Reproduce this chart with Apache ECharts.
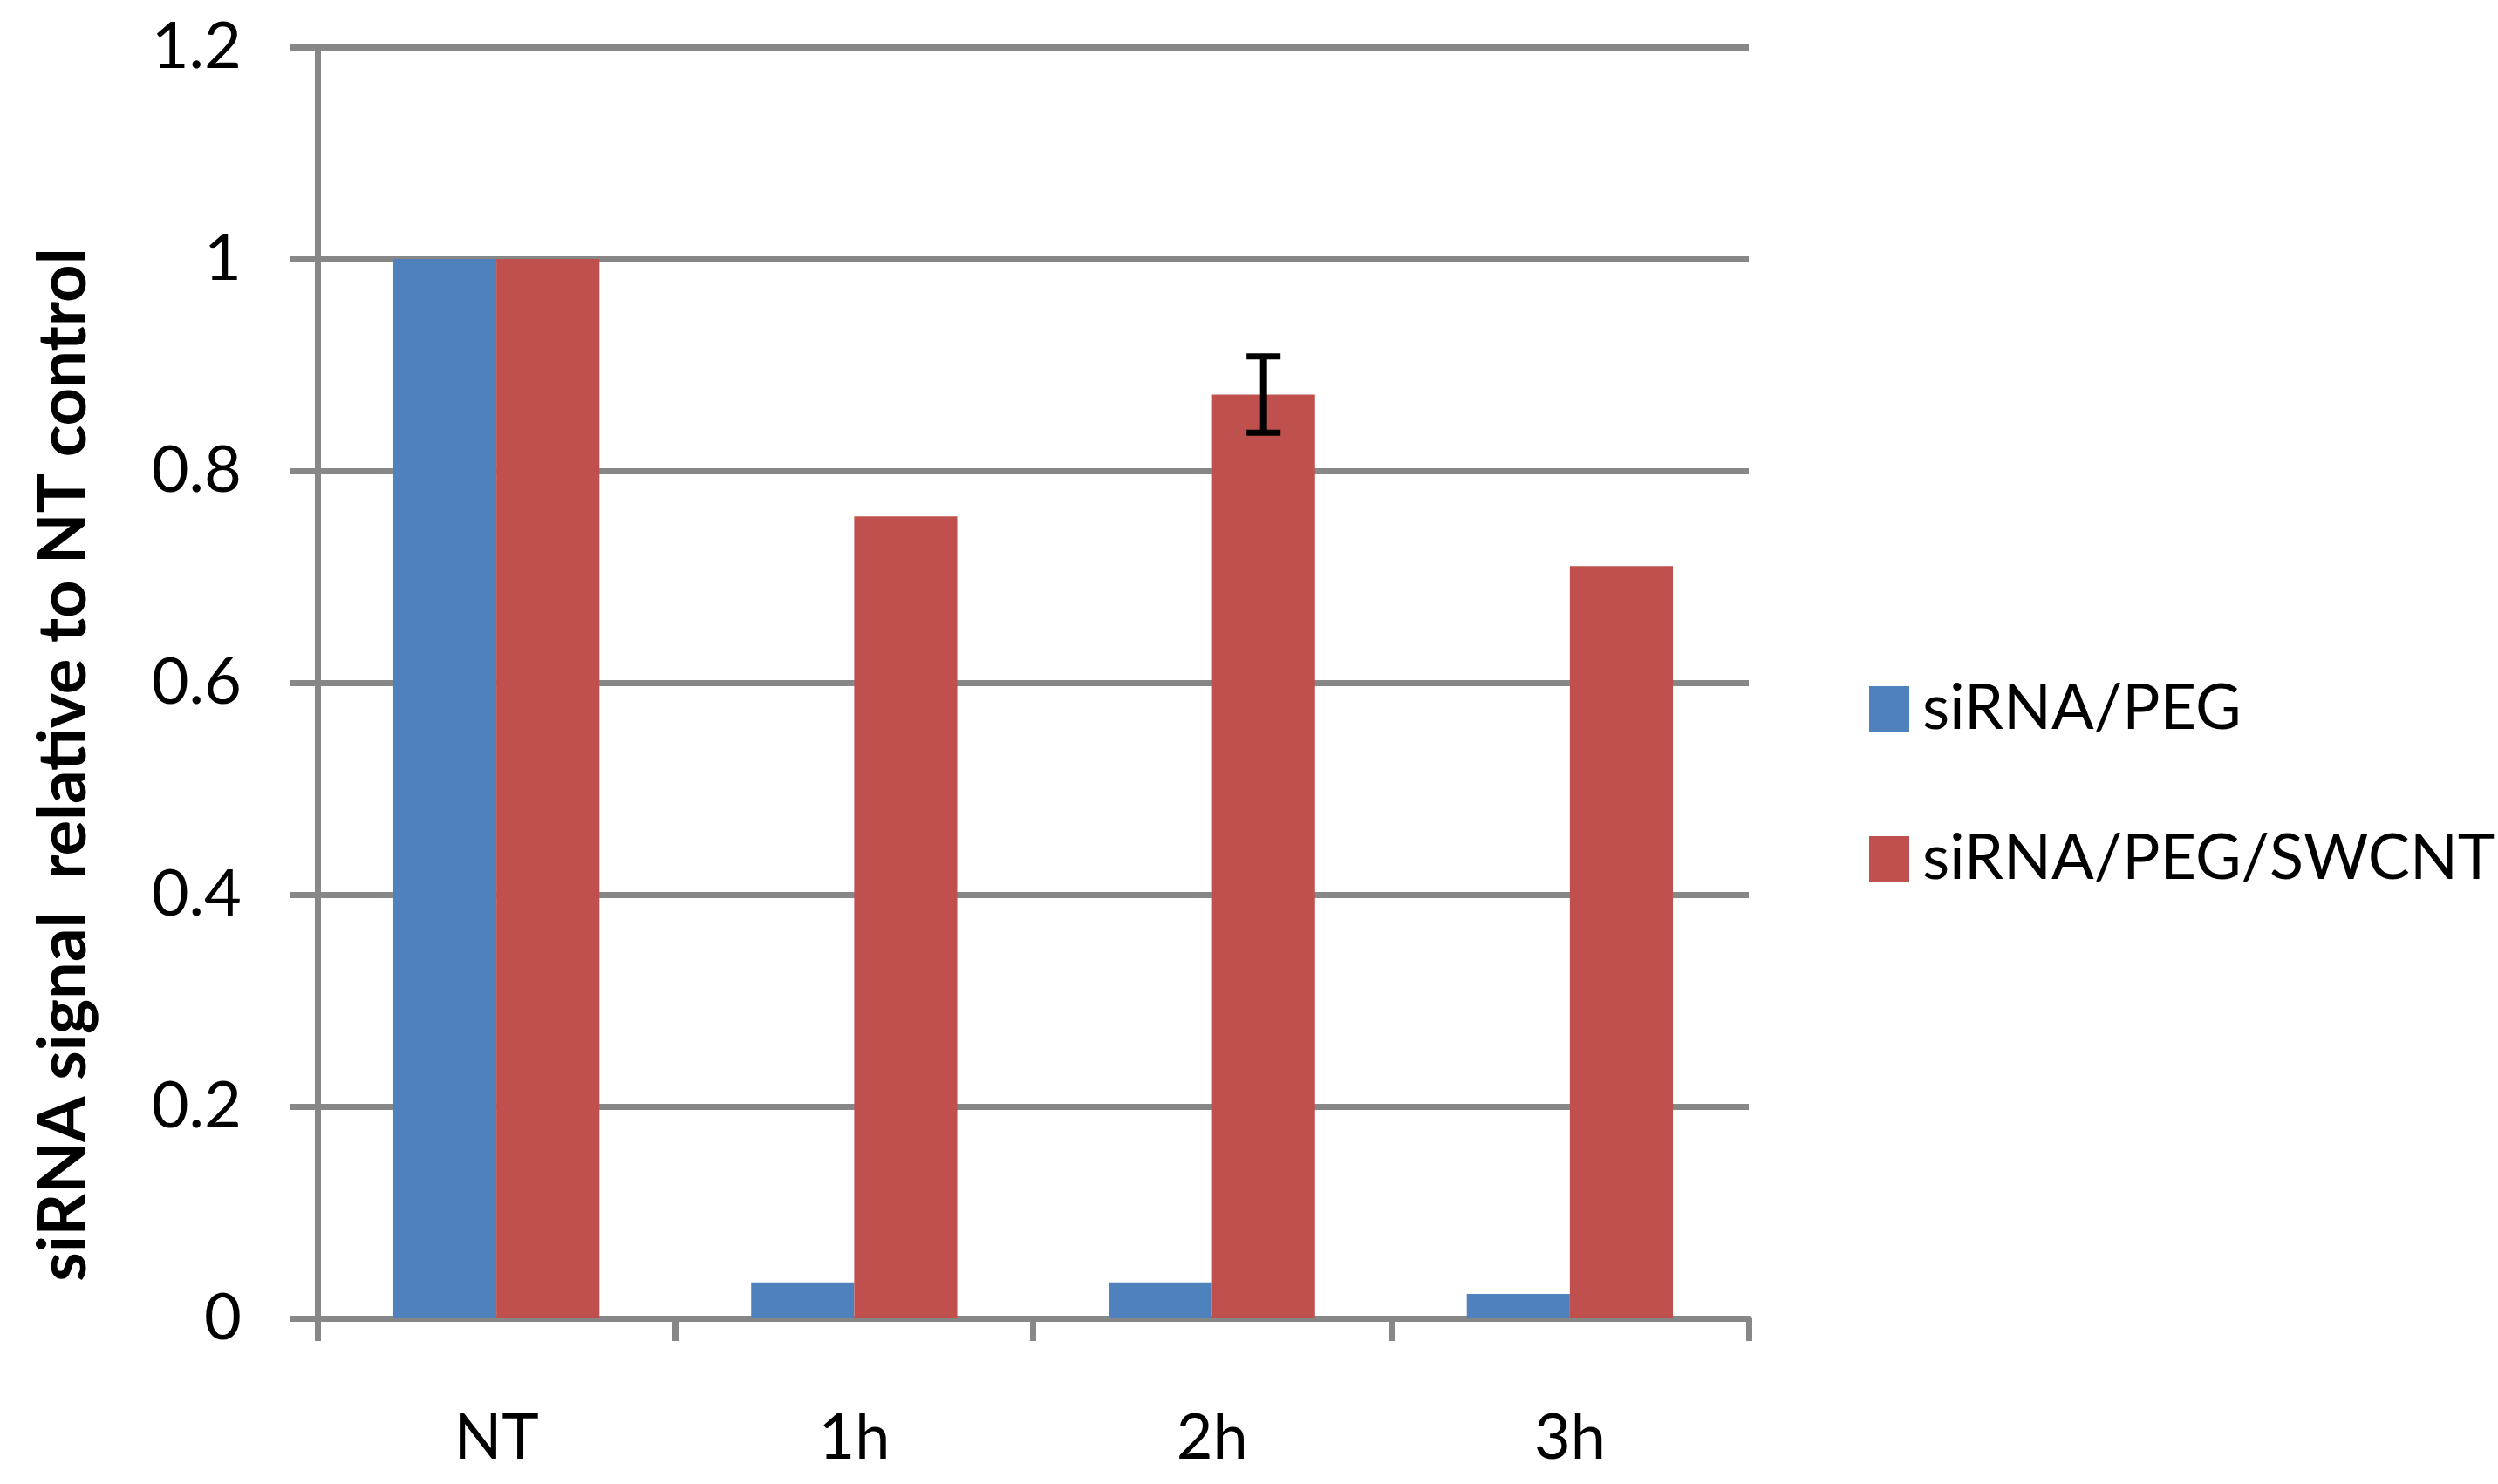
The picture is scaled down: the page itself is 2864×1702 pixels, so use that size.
<!DOCTYPE html>
<html>
<head>
<meta charset="utf-8">
<script src="https://cdn.jsdelivr.net/npm/echarts@6/dist/echarts.min.js"></script>
<style>
html,body{margin:0;padding:0;background:#fff;}
#c{width:2864px;height:1702px;}
</style>
</head>
<body>
<div id="c"></div>
<script>
const categories = ['NT', '1h', '2h', '3h'];
const seriesNames = ['siRNA/PEG', 'siRNA/PEG/SWCNT'];
const pegValues = [1.0, 0.034, 0.034, 0.023];
const swcntValues = [1.0, 0.757, 0.872, 0.710];
const swcntErrors = [0, 0, 0.036, 0];
const yTicks = { min: 0, max: 1.2, interval: 0.2 };
const yTitle = 'siRNA signal  relative to NT control';

const BLUE = '#4F81BD', RED = '#C0504D', GRAY = '#878787';
const BAR_W = 0.288;

const chart = echarts.init(document.getElementById('c'));
chart.setOption({
  backgroundColor: '#fff',
  animation: false,
  grid: { left: 364, right: 859, top: 54, bottom: 190, containLabel: false },
  legend: {
    orient: 'vertical',
    left: 2138, top: 772,
    itemWidth: 46, itemHeight: 52, itemGap: 100,
    icon: 'rect',
    textStyle: { fontFamily: 'Lato', fontSize: 72, color: '#000', padding: [0, 0, 0, 10] },
    data: seriesNames
  },
  xAxis: {
    type: 'category',
    data: categories,
    axisLine: { lineStyle: { color: GRAY, width: 7 } },
    axisTick: { show: true, length: 26, lineStyle: { color: GRAY, width: 7 } },
    axisLabel: { fontFamily: 'Lato', fontSize: 72, color: '#000', margin: 102 },
    splitLine: { show: false }
  },
  yAxis: {
    type: 'value',
    min: yTicks.min, max: yTicks.max, interval: yTicks.interval,
    axisLine: { show: true, lineStyle: { color: GRAY, width: 7 } },
    axisTick: { show: true, length: 32, lineStyle: { color: GRAY, width: 7 } },
    axisLabel: { fontFamily: 'Lato', fontSize: 74, color: '#000', margin: 87 },
    splitLine: { show: true, lineStyle: { color: GRAY, width: 7 } }
  },
  graphic: [{
    type: 'text',
    x: 73, y: 877,
    rotation: Math.PI / 2,
    style: {
      text: yTitle,
      fontFamily: 'Lato', fontWeight: 'bold', fontSize: 76,
      fill: '#000', textAlign: 'center', textVerticalAlign: 'middle'
    }
  }],
  series: [
    {
      name: seriesNames[0], type: 'bar', data: pegValues,
      barWidth: (BAR_W * 100) + '%', barGap: '0%',
      itemStyle: { color: BLUE }
    },
    {
      name: seriesNames[1], type: 'bar', data: swcntValues,
      barWidth: (BAR_W * 100) + '%', barGap: '0%',
      itemStyle: { color: RED }
    },
    {
      name: 'err', type: 'custom',
      data: swcntValues.map((v, i) => [i, v - swcntErrors[i], v + swcntErrors[i]]),
      z: 10,
      renderItem: function (params, api) {
        const i = api.value(0);
        if (swcntErrors[i] <= 0) return null;
        const lo = api.coord([i, api.value(1)]);
        const hi = api.coord([i, api.value(2)]);
        const catW = api.size([1, 0])[0];
        const x = lo[0] + catW * BAR_W / 2;
        const half = 19.5;
        return {
          type: 'group',
          children: [
            { type: 'line', shape: { x1: x, y1: lo[1], x2: x, y2: hi[1] }, style: { stroke: '#000', lineWidth: 8 } },
            { type: 'line', shape: { x1: x - half, y1: lo[1], x2: x + half, y2: lo[1] }, style: { stroke: '#000', lineWidth: 7 } },
            { type: 'line', shape: { x1: x - half, y1: hi[1], x2: x + half, y2: hi[1] }, style: { stroke: '#000', lineWidth: 7 } }
          ]
        };
      }
    }
  ]
});
</script>
</body>
</html>
